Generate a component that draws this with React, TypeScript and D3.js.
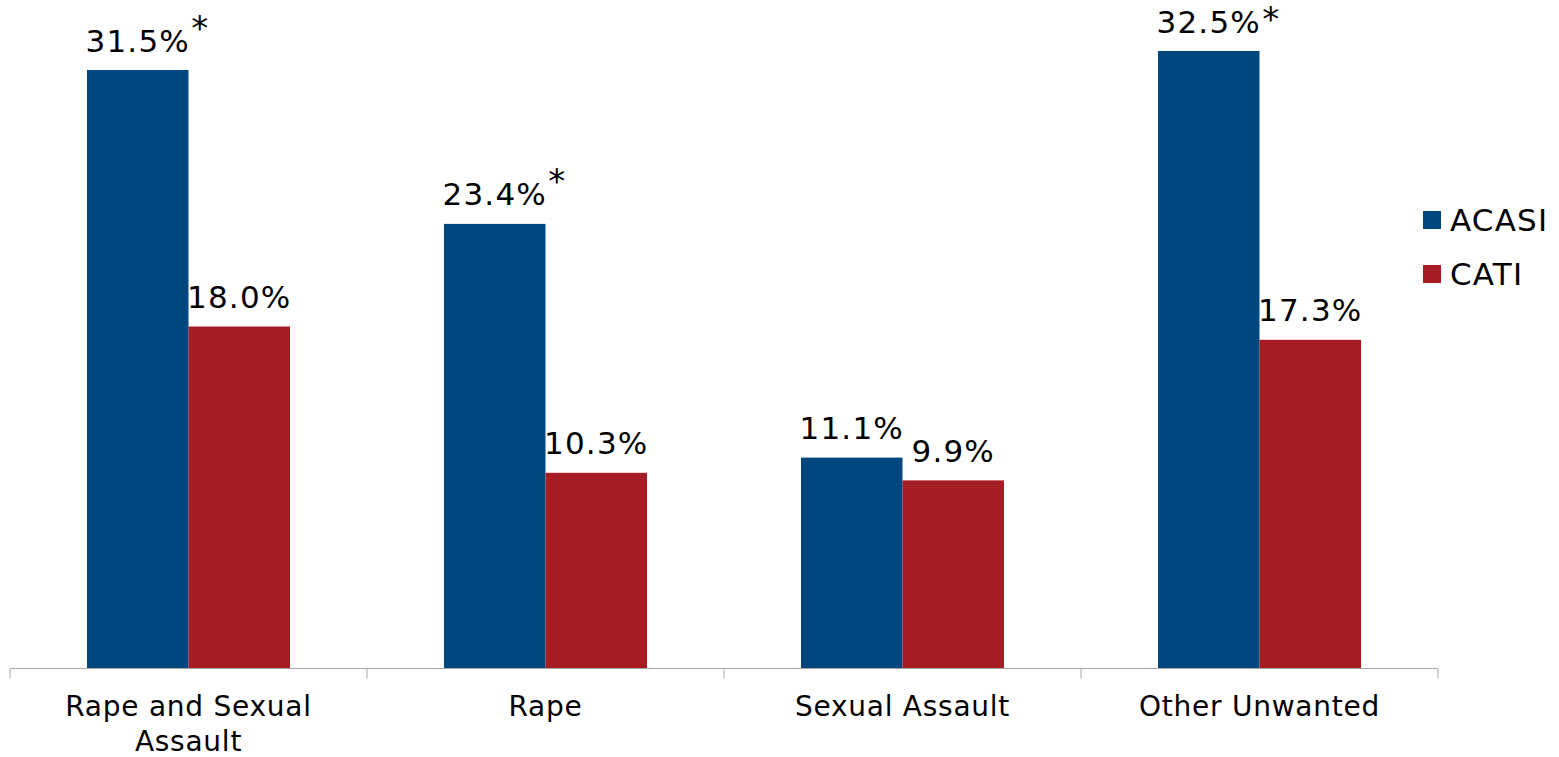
import React from "react";
import * as d3 from "d3";

const categories = ["Rape and Sexual Assault", "Rape", "Sexual Assault", "Other Unwanted"];
const categoryLines = [["Rape and Sexual", "Assault"], ["Rape"], ["Sexual Assault"], ["Other Unwanted"]];
const seriesNames = ["ACASI", "CATI"];
const acasi = [31.5, 23.4, 11.1, 32.5];
const cati = [18.0, 10.3, 9.9, 17.3];
const acasiSignificant = [true, true, false, true];
const colors = ["#00467f", "#a51d23"];

const W = 1559;
const H = 757;
const baseY = 668.5;
const left = 10;
const right = 1438;
const FONT = "'DejaVu Sans', Verdana, sans-serif";

export default function App() {
  const x0 = d3.scaleBand<string>().domain(categories).range([left, right]).padding(0);
  const x1 = d3
    .scaleBand<string>()
    .domain(seriesNames)
    .range([0, x0.bandwidth()])
    .paddingInner(0)
    .paddingOuter(0.7586);
  const y = d3.scaleLinear().domain([0, 35]).range([baseY, baseY - 35 * 19]);
  const seriesValues = [acasi, cati];
  const fmt = (v: number) => v.toFixed(1) + "%";

  const ticks = [...categories.map((c) => x0(c) as number), right];

  return (
    <svg width={W} height={H} style={{ position: "absolute", left: 0, top: 0, background: "#fff" }} fontFamily={FONT}>
      <rect x={0} y={0} width={W} height={H} fill="#fff" />
      {categories.map((c, ci) =>
        seriesNames.map((s, si) => {
          const v = seriesValues[si][ci];
          const bx = (x0(c) as number) + (x1(s) as number);
          const bw = x1.bandwidth();
          const cx = bx + bw / 2;
          const lb = y(v) - 18.5;
          const astCenter = Math.max(lb - 32, 10.5);
          return (
            <g key={c + s}>
              <rect x={bx} y={y(v)} width={bw} height={baseY - y(v)} fill={colors[si]} />
              <text x={cx} y={lb} textAnchor="middle" fontSize={31} letterSpacing={1.2} fill="#000">
                {fmt(v)}
              </text>
              {si === 0 && acasiSignificant[ci] && (
                <text x={cx + 62} y={astCenter + 20} textAnchor="middle" fontSize={34} fill="#000">
                  *
                </text>
              )}
            </g>
          );
        })
      )}
      <line x1={left} x2={right} y1={baseY} y2={baseY} stroke="#a6a6a6" strokeWidth={1} />
      {ticks.map((t, i) => (
        <line key={i} x1={t} x2={t} y1={baseY} y2={baseY + 10} stroke="#a6a6a6" strokeWidth={1} />
      ))}
      {categories.map((c, ci) => (
        <text key={c} textAnchor="middle" fontSize={28} letterSpacing={0.75} fill="#000">
          {categoryLines[ci].map((ln, li) => (
            <tspan key={li} x={(x0(c) as number) + x0.bandwidth() / 2} y={716 + li * 35}>
              {ln}
            </tspan>
          ))}
        </text>
      ))}
      {seriesNames.map((s, si) => (
        <g key={s}>
          <rect x={1423} y={211 + si * 54} width={18} height={18} fill={colors[si]} />
          <text x={1450} y={231 + si * 54} fontSize={31} letterSpacing={1.2} fill="#000">
            {s}
          </text>
        </g>
      ))}
    </svg>
  );
}
